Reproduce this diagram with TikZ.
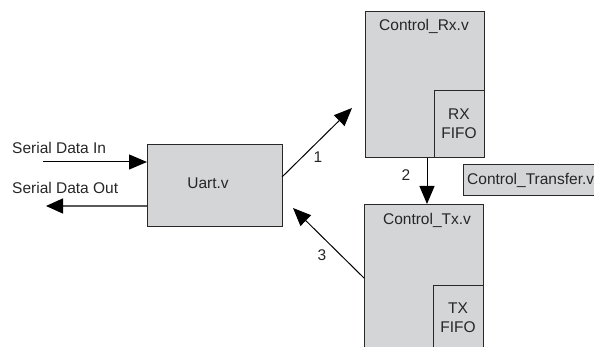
\documentclass[tikz,border=0pt]{standalone}
\usepackage{fontspec}
\setmainfont{Liberation Sans}
\usetikzlibrary{arrows.meta}
\definecolor{boxfill}{RGB}{212,213,215}
\definecolor{boxline}{RGB}{40,40,40}
\tikzset{
  blk/.style={draw=boxline,fill=boxfill,line width=1.3pt,inner sep=0pt,anchor=north west},
  txt/.style={font=\fontsize{15.5}{17}\selectfont,inner sep=0pt,text=black!85},
  arr/.style={line width=1pt,-{Triangle[length=18pt,width=15pt]}},
}
\begin{document}
\begin{tikzpicture}[x=1pt,y=-1pt]
\useasboundingbox (0,0) rectangle (594,347);
\clip (0,0) rectangle (594,347);
% boxes
\node[blk,minimum width=135pt,minimum height=82pt] (uart) at (147,144) {};
\node[txt] (uartl) at (208,183) {Uart.v};
\node[blk,minimum width=119pt,minimum height=146pt] (rx) at (365,11) {};
\node[blk,minimum width=50pt,minimum height=67pt] (rxf) at (434,90) {};
\node[txt,align=center] (rxfl) at (459,124) {RX\\[2pt]FIFO};
\node[txt] (rxl) at (424,26) {Control\_Rx.v};
\node[blk,minimum width=119pt,minimum height=160pt] (tx) at (364,204) {};
\node[blk,minimum width=50pt,minimum height=80pt] (txf) at (433,285) {};
\node[txt,align=center] (txfl) at (458,318) {TX\\[2pt]FIFO};
\node[txt] (txl) at (427,220) {Control\_Tx.v};
\node[blk,minimum width=140pt,minimum height=31pt] (ct) at (463,164) {};
\node[txt,anchor=west] (ctl) at (467,180) {Control\_Transfer.v};
% serial lines
\node[txt,anchor=west] (sinl) at (12,148) {Serial Data In};
\node[txt,anchor=west] (soutl) at (12,188) {Serial Data Out};
\coordinate (sin) at (43,162);
\coordinate (sout) at (46,206);
\draw[arr] (sin) -- (sin -| uart.west);
\draw[line width=1.5pt,draw=black!65,-{Triangle[length=17pt,width=15pt,color=black]}] (sout -| uart.west) -- (sout);
% connectors
\coordinate (a1s) at (282,177);
\coordinate (a1e) at (352,108);
\draw[arr] (a1s) -- (a1e);
\node[txt] (l1) at (318,157) {1};
\draw[arr] (rx.south -| 427,0) -- (tx.north -| 427,0);
\node[txt] (l2) at (406,175) {2};
\coordinate (a3s) at (364,278);
\coordinate (a3e) at (293,208);
\draw[arr] (a3s) -- (a3e);
\node[txt] (l3) at (322,255) {3};
\end{tikzpicture}
\end{document}
